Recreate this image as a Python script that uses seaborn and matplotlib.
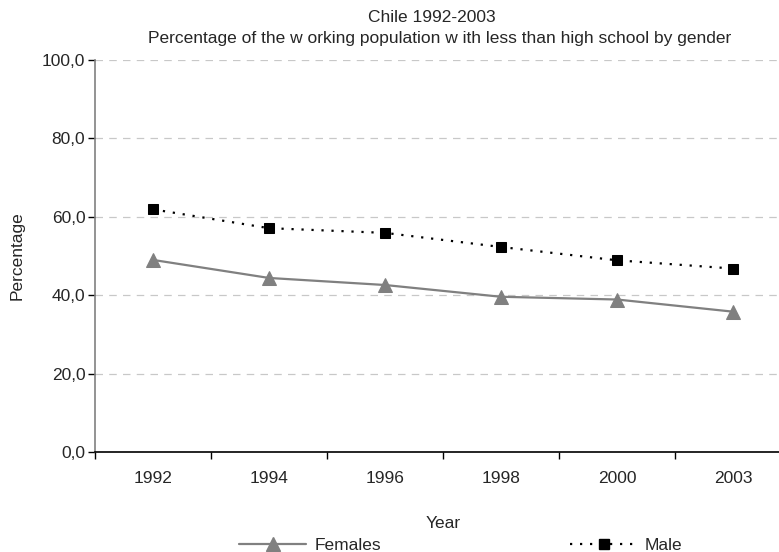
import numpy as np
import pandas as pd
import matplotlib
matplotlib.use("Agg")
import matplotlib.pyplot as plt
import seaborn as sns
from matplotlib.lines import Line2D
from matplotlib.ticker import FuncFormatter, FixedLocator

years = ["1992", "1994", "1996", "1998", "2000", "2003"]
females = [49.0, 44.4, 42.6, 39.6, 38.9, 35.8]
male = [61.9, 57.1, 55.9, 52.3, 48.9, 46.8]

df = pd.DataFrame({
    "Year": years * 2,
    "Percentage": females + male,
    "Gender": ["Females"] * len(years) + ["Male"] * len(years),
})

sns.set_style("white")
plt.rcParams['font.family'] = ['Liberation Sans', 'DejaVu Sans']
FS = 12.5

fig = plt.figure(figsize=(7.79, 5.52), dpi=100)
# axes runs a bit past the right edge, like the cropped original
ax = fig.add_axes([95 / 779, 100 / 552, 696 / 779, 392 / 552])

fem_dash = "-"
male_dash = (0, (1, 3.5))

sns.lineplot(data=df[df.Gender == "Females"], x="Year", y="Percentage",
             color="#808080", marker="^", markersize=10.5, linewidth=1.6,
             linestyle=fem_dash, markeredgecolor="#808080", ax=ax)
sns.lineplot(data=df[df.Gender == "Male"], x="Year", y="Percentage",
             color="black", marker="s", markersize=7, linewidth=1.6,
             linestyle=male_dash, markeredgecolor="black", ax=ax)

ax.set_xlim(-0.5, len(years) - 0.5)
ax.set_ylim(0, 100)
ax.set_yticks(np.arange(0, 101, 20))
ax.yaxis.set_major_formatter(FuncFormatter(lambda v, p: f"{v:.1f}".replace(".", ",")))
ax.yaxis.grid(True, color="#c8c8c8", linestyle=(0, (6, 5)), linewidth=0.9)
ax.set_axisbelow(True)

# category boundaries get the tick marks, labels sit in the middle
ax.xaxis.set_minor_locator(FixedLocator(np.arange(-0.5, len(years), 1)))
ax.tick_params(axis="x", which="major", length=0, pad=14, labelsize=FS)
ax.tick_params(axis="x", which="minor", length=5, width=1, color="black", direction="out", bottom=True)
ax.tick_params(axis="y", length=5, width=1, color="black", direction="out", left=True, labelsize=FS, pad=2)

for s in ["top", "right"]:
    ax.spines[s].set_visible(False)
ax.spines["left"].set_color("#808080")
ax.spines["left"].set_linewidth(1.2)
ax.spines["bottom"].set_color("black")
ax.spines["bottom"].set_linewidth(1.2)

ax.set_xlabel("Year", fontsize=FS, va="center")
ax.xaxis.set_label_coords(0.5, -72 / 392)
ax.set_ylabel("Percentage", fontsize=FS)
ax.yaxis.set_label_coords(-70 / 696, 0.5)

fig.text(432 / 779, 1 - 21.7 / 552, "Chile 1992-2003", ha="center", va="baseline", fontsize=FS)
fig.text(440 / 779, 1 - 43.5 / 552,
         "Percentage of the w orking population w ith less than high school by gender",
         ha="center", va="baseline", fontsize=FS)

handles = [
    Line2D([], [], color="#808080", marker="^", markersize=10.5, linewidth=1.6, linestyle=fem_dash),
    Line2D([], [], color="black", marker="s", markersize=7, linewidth=1.6, linestyle=male_dash),
]
fig.legend(handles, ["Females", "Male"], loc="center", bbox_to_anchor=(461 / 779, 1 - 545 / 552),
           ncol=2, frameon=False, fontsize=FS, handlelength=3.86, handletextpad=0.46,
           columnspacing=10.9, borderpad=0)

fig.savefig("out.png", dpi=100)
